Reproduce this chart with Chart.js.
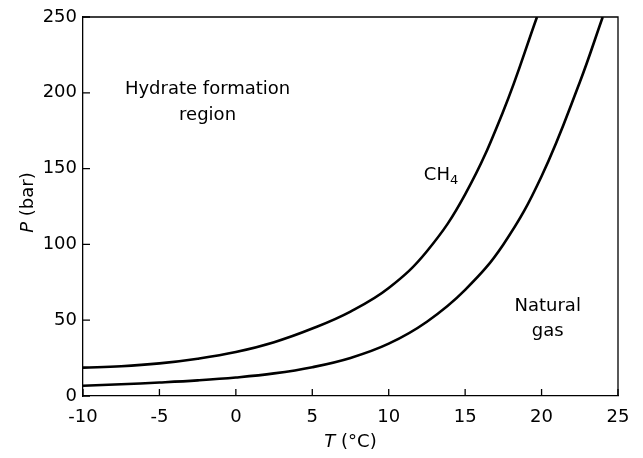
<!DOCTYPE html>
<html>
<head>
<meta charset="utf-8">
<script src="https://cdn.jsdelivr.net/npm/chart.js@4.4.1/dist/chart.umd.min.js"></script>
<style>
  html, body { margin: 0; padding: 0; background: #fff; }
</style>
</head>
<body>
<canvas id="hydrateChart" width="643" height="458"></canvas>
<script>
// hydrate equilibrium curves, T in °C, P in bar
const ch4Temp = [-10, -7.5, -5, -2.5, 0, 2.5, 5, 7.5, 10, 12.5, 15, 17.5, 19.7];
const ch4Pressure = [18.7, 19.6, 21.5, 24.6, 29, 35.5, 44.5, 55.7, 71.2, 95.5, 133, 188, 250];

const gasTemp = [-10, -7.5, -5, -2.5, 0, 2.5, 5, 7.5, 10, 12.5, 15, 17.5, 20, 22.5, 24];
const gasPressure = [6.8, 7.75, 8.9, 10.3, 12.2, 14.9, 19, 25.1, 34.5, 49, 70, 100, 145, 207, 250];

const xTicks = [-10, -5, 0, 5, 10, 15, 20, 25];
const yTicks = [0, 50, 100, 150, 200, 250];

// text labels placed in data units
const regionLabel = { t: -1.85, p: 199, lines: ["Hydrate formation", "region"] };
const ch4Label = { t: 12.3, p: 142.5 };
const gasLabel = { t: 20.4, p: 56.3, lines: ["Natural", "gas"] };

const FONT = "DejaVu Sans";

function toPoints(xs, ys) {
  return xs.map((x, i) => ({ x, y: ys[i] }));
}

const decorations = {
  id: "decorations",
  afterDraw(chart) {
    const { ctx, chartArea: area, scales } = chart;
    const xs = scales.x;
    const ys = scales.y;
    ctx.save();
    ctx.strokeStyle = "#000";
    ctx.lineWidth = 1.3;

    // frame top and right
    ctx.beginPath();
    ctx.moveTo(area.left, area.top);
    ctx.lineTo(area.right, area.top);
    ctx.lineTo(area.right, area.bottom);
    ctx.stroke();

    // inward tick marks
    ctx.beginPath();
    xTicks.forEach((v) => {
      const px = xs.getPixelForValue(v);
      ctx.moveTo(px, area.bottom);
      ctx.lineTo(px, area.bottom - 7);
    });
    yTicks.forEach((v) => {
      const py = ys.getPixelForValue(v);
      ctx.moveTo(area.left, py);
      ctx.lineTo(area.left + 7, py);
    });
    ctx.stroke();

    ctx.fillStyle = "#000";
    ctx.textBaseline = "alphabetic";
    ctx.font = `18px "${FONT}"`;

    // annotations
    ctx.textAlign = "center";
    regionLabel.lines.forEach((line, i) => {
      ctx.fillText(line, xs.getPixelForValue(regionLabel.t), ys.getPixelForValue(regionLabel.p) + i * 26);
    });
    gasLabel.lines.forEach((line, i) => {
      ctx.fillText(line, xs.getPixelForValue(gasLabel.t), ys.getPixelForValue(gasLabel.p) + i * 25);
    });

    ctx.textAlign = "left";
    const cx = xs.getPixelForValue(ch4Label.t);
    const cy = ys.getPixelForValue(ch4Label.p);
    ctx.fillText("CH", cx, cy);
    const chWidth = ctx.measureText("CH").width;
    ctx.font = `13px "${FONT}"`;
    ctx.fillText("4", cx + chWidth, cy + 4);

    // x axis title: italic T
    drawMixed(ctx, [["T", true], [" (°C)", false]], (area.left + area.right) / 2, 447, 0);
    // y axis title: italic P, rotated
    drawMixed(ctx, [["P", true], [" (bar)", false]], 33, (area.top + area.bottom) / 2 - 4, -Math.PI / 2);

    ctx.restore();
  },
};

function drawMixed(ctx, parts, x, y, angle) {
  ctx.save();
  ctx.translate(x, y);
  ctx.rotate(angle);
  ctx.textAlign = "left";
  ctx.textBaseline = "alphabetic";
  const fonts = parts.map(([, italic]) => `${italic ? "italic " : ""}18px "${FONT}"`);
  const widths = parts.map(([text], i) => {
    ctx.font = fonts[i];
    return ctx.measureText(text).width;
  });
  let pos = -widths.reduce((a, b) => a + b, 0) / 2;
  parts.forEach(([text], i) => {
    ctx.font = fonts[i];
    ctx.fillText(text, pos, 0);
    pos += widths[i];
  });
  ctx.restore();
}

const lineStyle = {
  showLine: true,
  borderColor: "#000",
  borderWidth: 2.6,
  pointRadius: 0,
  fill: false,
  tension: 0.4,
};

new Chart(document.querySelector("#hydrateChart"), {
  type: "scatter",
  data: {
    datasets: [
      { label: "CH4", data: toPoints(ch4Temp, ch4Pressure), ...lineStyle },
      { label: "Natural gas", data: toPoints(gasTemp, gasPressure), ...lineStyle },
    ],
  },
  options: {
    responsive: false,
    animation: false,
    devicePixelRatio: 1,
    layout: { padding: { top: 17, right: 25, left: 0, bottom: 0 } },
    plugins: {
      legend: { display: false },
      tooltip: { enabled: false },
    },
    scales: {
      x: {
        type: "linear",
        min: -10,
        max: 25,
        afterBuildTicks: (scale) => { scale.ticks = xTicks.map((value) => ({ value })); },
        afterFit: (scale) => { scale.height = 62; },
        grid: { display: false, drawTicks: false },
        border: { display: true, color: "#000", width: 1.3 },
        ticks: { color: "#000", padding: 11, font: { family: FONT, size: 18 }, maxRotation: 0 },
      },
      y: {
        type: "linear",
        min: 0,
        max: 250,
        afterBuildTicks: (scale) => { scale.ticks = yTicks.map((value) => ({ value })); },
        afterFit: (scale) => { scale.width = 83; },
        grid: { display: false, drawTicks: false },
        border: { display: true, color: "#000", width: 1.3 },
        ticks: { color: "#000", padding: 6, font: { family: FONT, size: 18 } },
      },
    },
  },
  plugins: [decorations],
});
</script>
</body>
</html>
